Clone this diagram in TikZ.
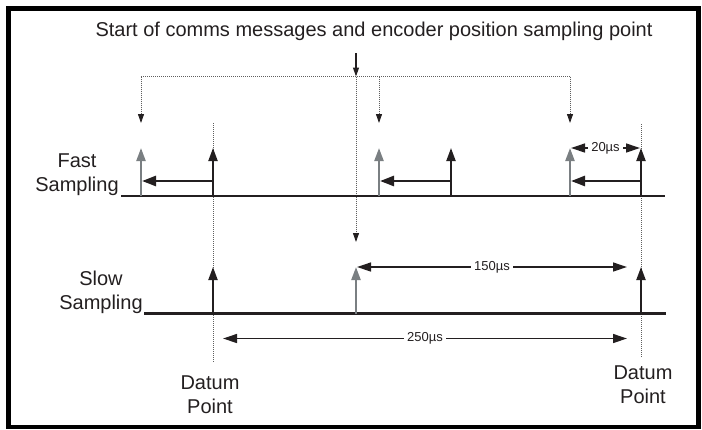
\documentclass[tikz,border=0pt]{standalone}
\usepackage{fontspec}
\setmainfont{Liberation Sans}
\usetikzlibrary{arrows.meta}
\definecolor{ink}{RGB}{35,31,32}
\definecolor{arrgray}{RGB}{122,127,130}
\definecolor{dotgray}{RGB}{95,95,95}
\begin{document}
\begin{tikzpicture}[x=1pt,y=-1pt,
  bigtext/.style={font=\fontsize{20}{23.5}\selectfont, text=ink, inner sep=0pt, align=center},
  smalltext/.style={font=\fontsize{13}{15}\selectfont, text=ink, fill=white, inner xsep=3pt, inner ysep=1pt},
  axisline/.style={draw=ink, line width=2.2pt},
  slowaxis/.style={draw=ink, line width=2.7pt},
  blackarr/.style={draw=ink, line width=2pt, -{Triangle[length=13pt,width=9pt]}},
  grayarr/.style={draw=arrgray, line width=2.2pt, -{Triangle[length=13pt,width=9pt]}},
  shiftarr/.style={draw=ink, line width=2.6pt, -{Triangle[length=14pt,width=10pt]}},
  dimarr/.style={draw=ink, line width=1.3pt, {Triangle[length=14pt,width=9pt]}-{Triangle[length=14pt,width=9pt]}},
  dotline/.style={draw=dotgray, line width=0.9pt, dash pattern=on 1pt off 1pt},
  dotarr/.style={dotline, -{Triangle[length=9pt,width=6pt,color=ink]}},
  startarr/.style={draw=ink, line width=1.2pt, -{Triangle[length=9pt,width=6pt]}}
]
\useasboundingbox (0,0) rectangle (702,429);
% frame
\draw[black, line width=4.6pt] (8.5,8.5) rectangle (698.5,426.8);

% title
\node[bigtext, anchor=base] (title) at (374,36) {Start of comms messages and encoder position sampling point};

% coordinates
\coordinate (startTop) at (356,53);
\coordinate (startBot) at (356,76.5);
\coordinate (brL) at (141,76.5);
\coordinate (brM) at (379,76.5);
\coordinate (brR) at (570,76.5);
\coordinate (brLd) at (141,123);
\coordinate (brMd) at (379,123);
\coordinate (brRd) at (570,123);
\coordinate (slowDot) at (356,242);
\coordinate (datLtop) at (213,123);
\coordinate (datLbot) at (213,362);
\coordinate (datRtop) at (641,124);
\coordinate (datRbot) at (641,358);

% dotted guide lines
\draw[dotline] (brL) -- (brR);
\draw[dotarr] (brL) -- (brLd);
\draw[dotarr] (brM) -- (brMd);
\draw[dotarr] (brR) -- (brRd);
\draw[dotarr] (startBot) -- (slowDot);
\draw[dotline] (datLtop) -- (datLbot);
\draw[dotline] (datRtop) -- (datRbot);
\draw[startarr] (startTop) -- (startBot);

% fast sampling
\coordinate (fL) at (121,196);
\coordinate (fR) at (665,196);
\draw[axisline] (fL) -- (fR);
\node[bigtext, anchor=base] (fastlbl) at (77,191) {Fast\\Sampling};

\coordinate (fg1b) at (141,196); \coordinate (fg1t) at (141,148);
\coordinate (fb1b) at (213,196); \coordinate (fb1t) at (213,148);
\coordinate (fg2b) at (379,196); \coordinate (fg2t) at (379,148);
\coordinate (fb2b) at (451,196); \coordinate (fb2t) at (451,148);
\coordinate (fg3b) at (570,196); \coordinate (fg3t) at (570,148);
\coordinate (fb3b) at (641,196); \coordinate (fb3t) at (641,148);

\draw[grayarr] (fg1b) -- (fg1t);
\draw[blackarr] (fb1b) -- (fb1t);
\draw[grayarr] (fg2b) -- (fg2t);
\draw[blackarr] (fb2b) -- (fb2t);
\draw[grayarr] (fg3b) -- (fg3t);
\draw[blackarr] (fb3b) -- (fb3t);

\coordinate (h1s) at (213,181); \coordinate (h1e) at (142,181);
\coordinate (h2s) at (451,181); \coordinate (h2e) at (380,181);
\coordinate (h3s) at (641,181); \coordinate (h3e) at (571,181);
\draw[shiftarr] (h1s) -- (h1e);
\draw[shiftarr] (h2s) -- (h2e);
\draw[shiftarr] (h3s) -- (h3e);

\coordinate (d20a) at (571,148); \coordinate (d20b) at (640,148);
\draw[dimarr] (d20a) -- node[smalltext] (t20) {20µs} (d20b);

% slow sampling
\coordinate (sL) at (144,313.5);
\coordinate (sR) at (666,313.5);
\draw[slowaxis] (sL) -- (sR);
\node[bigtext, anchor=base] (slowlbl) at (101,309) {Slow\\Sampling};

\coordinate (sb1b) at (213,313.5); \coordinate (sb1t) at (213,267);
\coordinate (sg1b) at (356,313.5); \coordinate (sg1t) at (356,267);
\coordinate (sb2b) at (641,313.5); \coordinate (sb2t) at (641,267);
\draw[blackarr] (sb1b) -- (sb1t);
\draw[grayarr] (sg1b) -- (sg1t);
\draw[blackarr] (sb2b) -- (sb2t);

\coordinate (d150a) at (357,267); \coordinate (d150b) at (627,267);
\draw[dimarr] (d150a) -- node[smalltext] (t150) {150µs} (d150b);
\coordinate (d250a) at (223,338.5); \coordinate (d250b) at (627,338.5);
\draw[dimarr] (d250a) -- node[smalltext] (t250) {250µs} (d250b);

% datum labels
\node[bigtext, anchor=base] (datumL) at (210,413.3) {Datum\\Point};
\node[bigtext, anchor=base] (datumR) at (643,403) {Datum\\Point};
\end{tikzpicture}
\end{document}
